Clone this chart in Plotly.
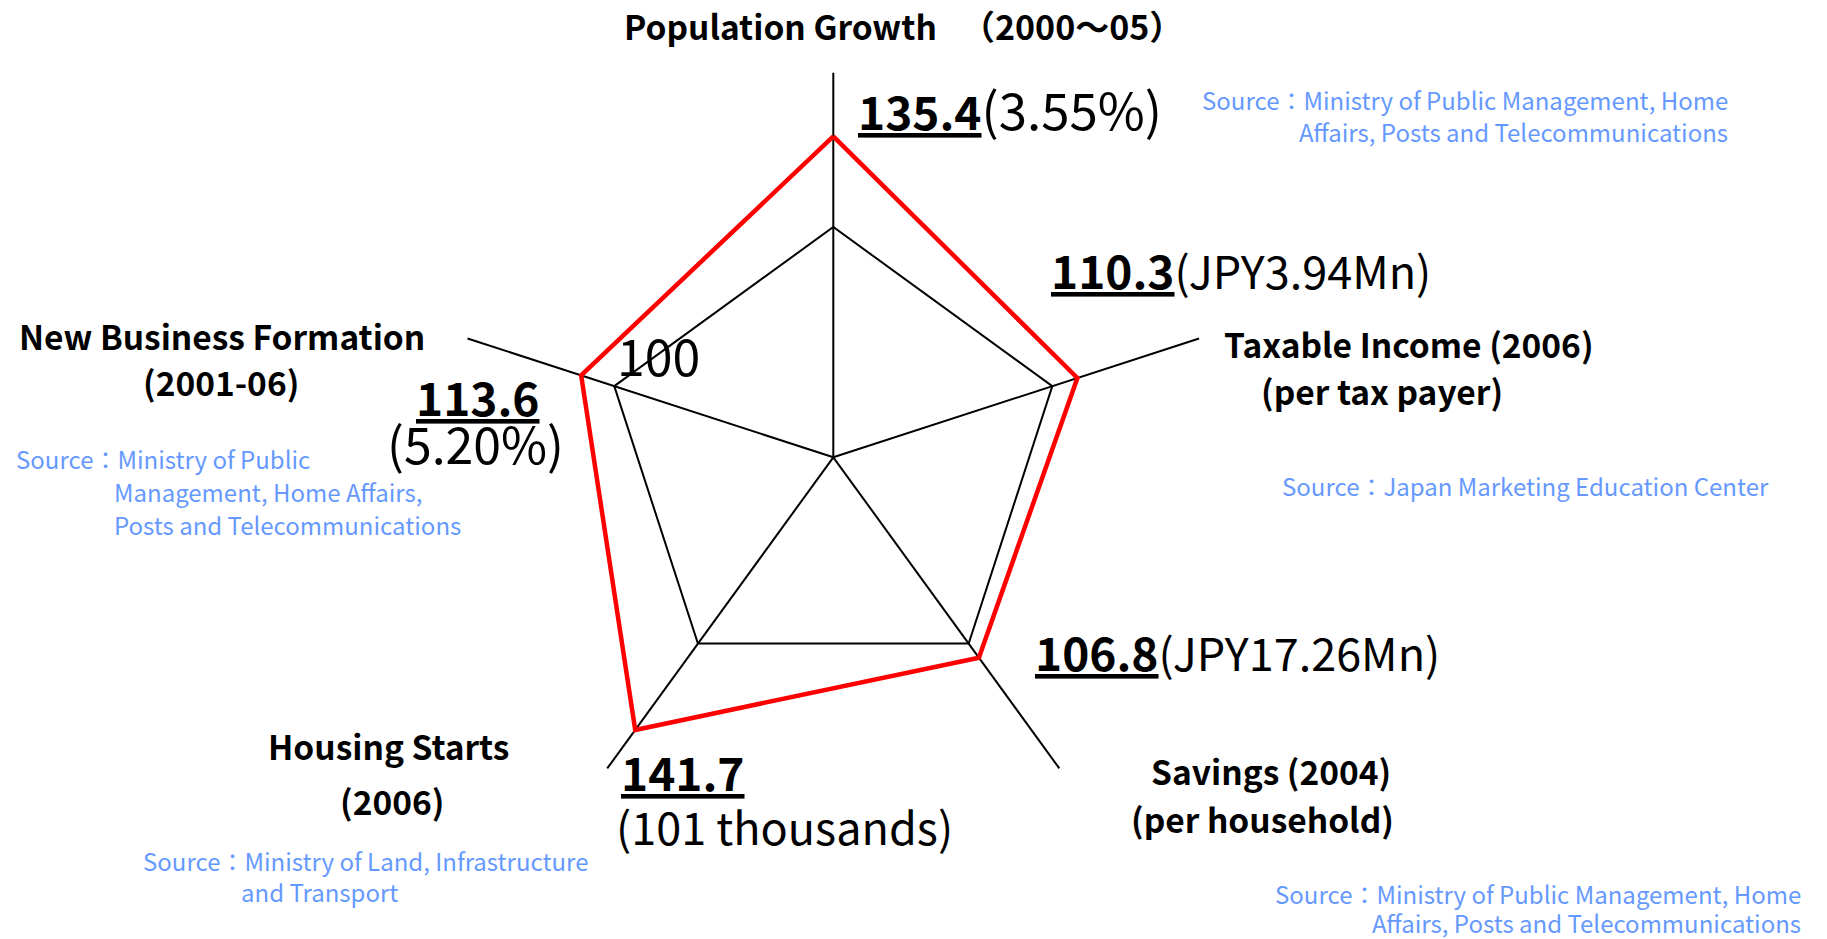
import plotly.graph_objects as go

# ---------------- data ----------------
categories = ["Population Growth", "Taxable Income", "Savings", "Housing Starts", "New Business Formation"]
index_values = [135.4, 110.3, 106.8, 141.7, 113.6]
baseline_value = 100
raw_values = ["3.55%", "JPY3.94Mn", "JPY17.26Mn", "101 thousands", "5.20%"]

axis_titles = [
    ["Population Growth", "（2000～05）"],
    ["Taxable Income (2006)", "(per tax payer)"],
    ["Savings (2004)", "(per household)"],
    ["Housing Starts", "(2006)"],
    ["New Business Formation", "(2001-06)"],
]
sources = [
    ["Source：Ministry of Public Management, Home", "Affairs, Posts and Telecommunications"],
    ["Source：Japan Marketing Education Center"],
    ["Source：Ministry of Public Management, Home", "Affairs, Posts and Telecommunications"],
    ["Source：Ministry of Land, Infrastructure", "and Transport"],
    ["Source：Ministry of Public", "Management, Home Affairs,", "Posts and Telecommunications"],
]

# ---------------- layout constants ----------------
W, H = 1827, 939
CX, CY, R = 833.3, 457.3, 384.6
FONT = "Noto Sans CJK JP"
BLUE = "#6699FF"
LABEL_SIZE = 33.5
NUM_SIZE = 46
SRC_SIZE = 24


def px(x, y):
    return x / W, 1 - y / H


annotations = []


def ann(text, x, y, size, anchor="center", color="black"):
    # y is the visual middle of the capitals; shift to bbox middle
    yy = y - 0.1 * size
    xp, yp = px(x, yy)
    annotations.append(dict(
        text=text, x=xp, y=yp, xref="paper", yref="paper",
        xanchor=anchor, yanchor="middle", showarrow=False,
        font=dict(family=FONT, size=size, color=color)))


# axis titles (bold)
title_pos = [
    [(780, 29), (1072, 29)],
    [(1409, 347), (1382, 394)],
    [(1271, 774), (1262, 822)],
    [(388, 749), (392, 804)],
    [(222, 339), (221, 385)],
]
title_sizes = [
    [LABEL_SIZE, 34],
    [LABEL_SIZE, LABEL_SIZE],
    [LABEL_SIZE, LABEL_SIZE],
    [LABEL_SIZE, LABEL_SIZE],
    [LABEL_SIZE, LABEL_SIZE],
]
for lines, poss, sizes in zip(axis_titles, title_pos, title_sizes):
    for t, (x, y), s in zip(lines, poss, sizes):
        ann("<b>" + t + "</b>", x, y, s)


def paren(i, size):
    return f"<span style='font-size:{size}px'>({raw_values[i]})</span>"


# value labels
ann(f"<b><u>{index_values[0]}</u></b>" + paren(0, 51), 856, 113, NUM_SIZE, "left")
ann(f"<b><u>{index_values[1]}</u></b>" + paren(1, 45), 1049, 274, NUM_SIZE, "left")
ann(f"<b><u>{index_values[2]}</u></b>" + paren(2, 45), 1033, 656, NUM_SIZE, "left")
ann(f"<b><u>{index_values[3]}</u></b>", 619, 776, NUM_SIZE, "left")
ann(f"({raw_values[3]})", 614, 830, 45, "left")
ann(f"<b><u>{index_values[4]}</u></b>", 478, 401, NUM_SIZE, "center")
ann(f"({raw_values[4]})", 475, 447, 50, "center")

# baseline label
ann(str(baseline_value), 658, 359, 50, "center")

# sources
source_pos = [
    [(1200, 102), (1297, 134)],
    [(1280, 488)],
    [(1273, 896), (1370, 925)],
    [(141, 863), (239, 894)],
    [(14, 461), (112, 494), (112, 527)],
]
for lines, poss in zip(sources, source_pos):
    for t, (x, y) in zip(lines, poss):
        ann(t, x, y, SRC_SIZE, "left", BLUE)

fig = go.Figure()
fig.add_trace(go.Scatterpolar(
    r=index_values + [index_values[0]],
    theta=categories + [categories[0]],
    mode="lines",
    line=dict(color="#FF0000", width=4.5),
    hoverinfo="skip",
    showlegend=False,
))

fig.update_layout(
    width=W, height=H,
    margin=dict(l=0, r=0, t=0, b=0),
    paper_bgcolor="white",
    showlegend=False,
    polar=dict(
        domain=dict(x=[(CX - R) / W, (CX + R) / W], y=[1 - (CY + R) / H, 1 - (CY - R) / H]),
        bgcolor="white",
        gridshape="linear",
        radialaxis=dict(range=[10, 160.3], tickvals=[baseline_value], showticklabels=False,
                        showline=False, ticks="", gridcolor="black", gridwidth=1.6),
        angularaxis=dict(rotation=90, direction="clockwise", showline=False,
                         showticklabels=False, ticks="", gridcolor="black", gridwidth=1.6),
    ),
    annotations=annotations,
)

fig.write_html(
    "out.html",
    config={"displayModeBar": False},
    post_script="document.body.style.margin='0px';document.body.style.overflow='hidden';",
)
